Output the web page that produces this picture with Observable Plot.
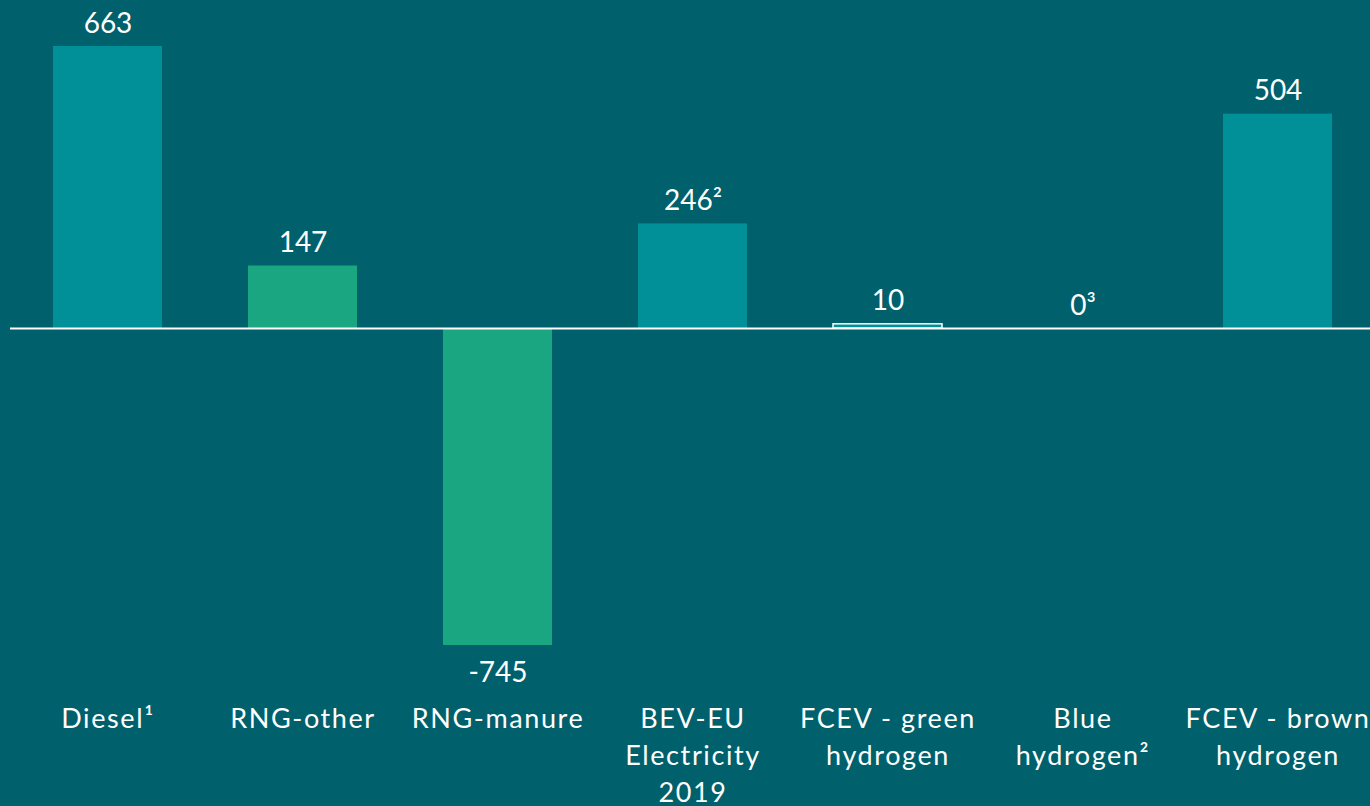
<!DOCTYPE html>
<html>
<head>
<meta charset="utf-8">
<script src="https://cdn.jsdelivr.net/npm/d3@7"></script>
<script src="https://cdn.jsdelivr.net/npm/@observablehq/plot@0.6"></script>
<style>
  html, body { margin: 0; padding: 0; background: #00606c; }
  #chart svg { display: block; }
  #chart g.ticklabels text { letter-spacing: 1.6px; }
</style>
</head>
<body>
<div id="chart"></div>
<script>
const categories = ["Diesel", "RNG-other", "RNG-manure", "BEV-EU", "FCEV-green", "Blue", "FCEV-brown"];
const tickLabels = ["Diesel¹", "RNG-other", "RNG-manure", "BEV-EU\nElectricity\n2019", "FCEV - green\nhydrogen", "Blue\nhydrogen²", "FCEV - brown\nhydrogen"];
const values = [663, 147, -745, 246, 10, 0, 504];
const valueLabels = ["663", "147", "-745", "246²", "10", "0³", "504"];
const groups = ["other", "rng", "rng", "other", "other", "other", "other"];
const outlined = [false, false, false, false, true, false, false];

const data = categories.map((c, i) => ({
  cat: c, value: values[i], label: valueLabels[i], tick: tickLabels[i], group: groups[i], outlined: outlined[i]
}));

const font = "Lato, 'Open Sans', sans-serif";

const chart = Plot.plot({
  width: 1370,
  height: 806,
  marginLeft: 10,
  marginRight: 0,
  marginTop: 0,
  marginBottom: 100,
  style: { background: "#00606c", color: "white", fontFamily: font, overflow: "visible" },
  x: { domain: categories, range: [8.8, 1376.7], paddingInner: 0.44, paddingOuter: 0.22, axis: null },
  y: { domain: [-745, 663], range: [645, 46], axis: null },
  color: { domain: ["other", "rng"], range: ["#018f98", "#1ba682"] },
  marks: [
    Plot.barY(data, { x: "cat", y: "value", fill: "group", stroke: d => d.outlined ? "white" : "none", strokeWidth: 1.5 }),
    Plot.ruleY([0], { stroke: "white", strokeWidth: 2 }),
    Plot.text(data.filter(d => d.value >= 0), { x: "cat", y: "value", text: "label", lineAnchor: "bottom", dy: -14, fill: "white", fontSize: 28 }),
    Plot.text(data.filter(d => d.value < 0), { x: "cat", y: "value", text: "label", lineAnchor: "bottom", dy: 36, fill: "white", fontSize: 28 }),
    Plot.text(data, { x: "cat", frameAnchor: "bottom", text: "tick", lineAnchor: "top", lineHeight: 1.37, dy: -5, fill: "white", fontSize: 27 })
  ]
});
const gs = chart.querySelectorAll("g[aria-label='text']");
gs[gs.length - 1].classList.add("ticklabels");
document.getElementById("chart").appendChild(chart);
</script>
</body>
</html>
